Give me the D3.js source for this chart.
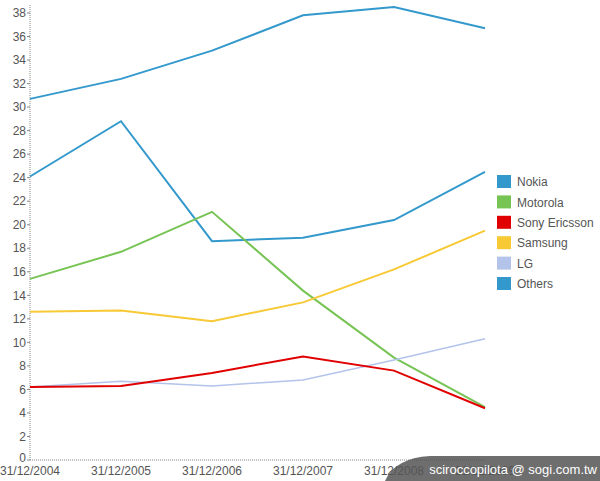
<!DOCTYPE html>
<html><head><meta charset="utf-8">
<script src="https://cdn.jsdelivr.net/npm/d3@7"></script>
<style>body{margin:0;background:#fff}svg{display:block;font-family:"Liberation Sans",Arial,sans-serif}</style>
</head><body><svg width="600" height="481"></svg>
<script>
// Datos
const years = ["31/12/2004","31/12/2005","31/12/2006","31/12/2007","31/12/2008","31/12/2009"];
const seriesNames = ["Nokia","Motorola","Sony Ericsson","Samsung","LG","Others"];
const colors = ["#3399cc","#77c455","#e00000","#f7c935","#b3c3ea","#3399cc"];
const nokia = [24.1, 28.8, 18.6, 18.9, 20.4, 24.5];
const motorola = [15.4, 17.7, 21.1, 14.4, 8.7, 4.5];
const sony = [6.2, 6.3, 7.4, 8.8, 7.6, 4.4];
const samsung = [12.6, 12.7, 11.8, 13.4, 16.2, 19.5];
const lg = [6.2, 6.7, 6.3, 6.8, 8.5, 10.3];
const others = [30.7, 32.4, 34.8, 37.8, 38.5, 36.7];
const yTicks = d3.range(0, 39, 2);

const values = [nokia, motorola, sony, samsung, lg, others];
const svg = d3.select("svg");

const x = d3.scalePoint().domain(years).range([30, 485]);
const y = d3.scaleLinear().domain([0, 38]).range([460, 13]);

// Ejes
svg.append("line").attr("x1", 30).attr("x2", 485).attr("y1", 460).attr("y2", 460)
  .attr("stroke", "#888").attr("stroke-dasharray", "1,1");
svg.append("line").attr("x1", 30).attr("x2", 30).attr("y1", 5).attr("y2", 460)
  .attr("stroke", "#888").attr("stroke-dasharray", "1,1");

svg.selectAll(".ytick").data(yTicks).enter().append("text")
  .attr("x", 26).attr("y", d => y(d) - (d === 0 ? 2 : 0)).attr("dy", ".35em")
  .attr("text-anchor", "end").attr("font-size", 12).attr("fill", "#555")
  .text(d => d);
svg.selectAll(".ytickmark").data(yTicks).enter().append("line")
  .attr("x1", 27).attr("x2", 30).attr("y1", d => y(d)).attr("y2", d => y(d))
  .attr("stroke", "#888");

svg.selectAll(".xtick").data(years).enter().append("text")
  .attr("x", d => x(d)).attr("y", 475).attr("text-anchor", "middle")
  .attr("font-size", 12).attr("fill", "#555").text(d => d);

// Líneas
const line = d3.line().x((d, i) => x(years[i])).y(d => y(d));
[5, 0, 1, 3, 4, 2].forEach(k => {
  svg.append("path").attr("d", line(values[k])).attr("fill", "none")
    .attr("stroke", colors[k]).attr("stroke-width", k === 4 ? 1.5 : 2);
});

// Leyenda
const lg2 = svg.selectAll(".leg").data(seriesNames).enter().append("g")
  .attr("transform", (d, i) => `translate(497,${175 + i * 20.4})`);
lg2.append("rect").attr("width", 14).attr("height", 13).attr("fill", (d, i) => colors[i]);
lg2.append("text").attr("x", 20).attr("y", 7).attr("dy", ".35em")
  .attr("font-size", 12).attr("fill", "#555").text(d => d);

// Marca de agua
svg.append("path")
  .attr("d", "M385,481 Q395,458 430,456 L600,456 L600,481 Z")
  .attr("fill", "#555").attr("opacity", 0.85);
svg.append("text").attr("x", 597).attr("y", 474).attr("text-anchor", "end")
  .attr("font-size", 13).attr("fill", "#fff").text("sciroccopilota @ sogi.com.tw");
</script></body></html>
